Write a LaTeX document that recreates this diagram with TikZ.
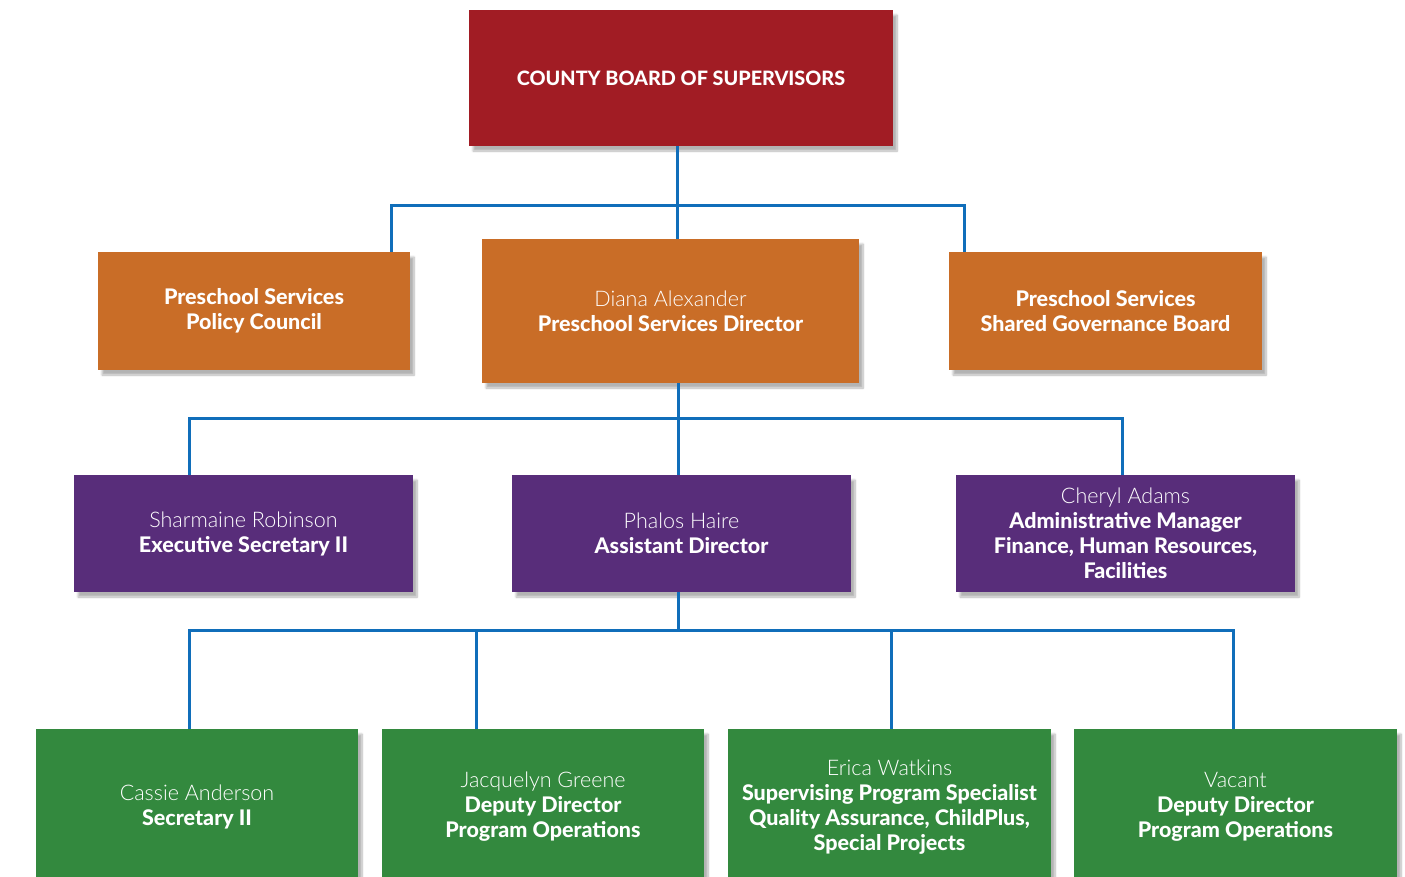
\documentclass[tikz,border=0pt]{standalone}
\usepackage{fontspec}
\setmainfont{Lato}[BoldFont={Lato Heavy}]
\newfontfamily\lightfont{Lato Light}
\usetikzlibrary{shadows.blur}

\definecolor{boardred}{RGB}{161,28,36}
\definecolor{mgmtorange}{RGB}{201,109,39}
\definecolor{staffpurple}{RGB}{88,45,122}
\definecolor{opsgreen}{RGB}{51,137,62}
\definecolor{linkblue}{RGB}{16,110,186}

\tikzset{
  orgbox/.style={rectangle, fill=#1, text=white, align=center,
    font=\fontsize{21.5}{25}\selectfont,
    blur shadow={shadow xshift=4pt, shadow yshift=-5pt, shadow blur steps=8, shadow opacity=30}},
  link/.style={draw=linkblue, line width=3pt}
}

\begin{document}
\begin{tikzpicture}[x=1pt, y=-1pt]
    \useasboundingbox (0,0) rectangle (1405,876);

    % Board
    \node[orgbox=boardred, minimum width=424pt, minimum height=136pt,
          font=\fontsize{19.8}{25}\selectfont] (board) at (681,78)
        {\textbf{COUNTY BOARD OF SUPERVISORS}};

    % Director and boards
    \node[orgbox=mgmtorange, minimum width=312pt, minimum height=118pt] (council) at (254,311)
        {\textbf{Preschool Services}\\\textbf{Policy Council}};
    \node[orgbox=mgmtorange, minimum width=377pt, minimum height=144pt] (director) at (670.5,311)
        {{\lightfont Diana Alexander}\\\textbf{Preschool Services Director}};
    \node[orgbox=mgmtorange, minimum width=313pt, minimum height=118pt] (governance) at (1105.5,311)
        {\textbf{Preschool Services}\\\textbf{Shared Governance Board}};

    % Staff
    \node[orgbox=staffpurple, minimum width=339pt, minimum height=117pt] (execsec) at (243.5,533.5)
        {{\lightfont Sharmaine Robinson}\\\textbf{Executive Secretary II}};
    \node[orgbox=staffpurple, minimum width=339pt, minimum height=117pt] (assistant) at (681.5,533.5)
        {{\lightfont Phalos Haire}\\\textbf{Assistant Director}};
    \node[orgbox=staffpurple, minimum width=339pt, minimum height=117pt] (adminmgr) at (1125.5,533.5)
        {{\lightfont Cheryl Adams}\\\textbf{Administrative Manager}\\\textbf{Finance, Human Resources,}\\\textbf{Facilities}};

    % Operations
    \node[orgbox=opsgreen, minimum width=322pt, minimum height=156pt] (secretary) at (197,807)
        {{\lightfont Cassie Anderson}\\\textbf{Secretary II}};
    \node[orgbox=opsgreen, minimum width=322pt, minimum height=156pt] (deputya) at (543,807)
        {{\lightfont Jacquelyn Greene}\\\textbf{Deputy Director}\\\textbf{Program Operations}};
    \node[orgbox=opsgreen, minimum width=323pt, minimum height=156pt] (specialist) at (889.5,807)
        {{\lightfont Erica Watkins}\\\textbf{Supervising Program Specialist}\\\textbf{Quality Assurance, ChildPlus,}\\\textbf{Special Projects}};
    \node[orgbox=opsgreen, minimum width=323pt, minimum height=156pt] (deputyb) at (1235.5,807)
        {{\lightfont Vacant}\\\textbf{Deputy Director}\\\textbf{Program Operations}};

    % Board -> level 1
    \coordinate (b1) at (677,205);
    \coordinate (b1l) at (391,205);
    \coordinate (b1r) at (964,205);
    \draw[link] (board.south -| b1) -- (b1) -- (b1 |- director.north);
    \draw[link] (b1l |- council.north) -- (b1l) -- (b1r) -- (b1r |- governance.north);

    % Director -> level 2
    \coordinate (b2) at (678,418);
    \coordinate (b2l) at (189,418);
    \coordinate (b2r) at (1122,418);
    \draw[link] (director.south -| b2) -- (b2) -- (b2 |- assistant.north);
    \draw[link] (b2l |- execsec.north) -- (b2l) -- (b2r) -- (b2r |- adminmgr.north);

    % Assistant -> level 3
    \coordinate (b3) at (678,630);
    \coordinate (b3a) at (189,630);
    \coordinate (b3b) at (476,630);
    \coordinate (b3c) at (891,630);
    \coordinate (b3d) at (1233,630);
    \draw[link] (assistant.south -| b3) -- (b3);
    \draw[link] (b3a |- secretary.north) -- (b3a) -- (b3d) -- (b3d |- deputyb.north);
    \draw[link] (b3b) -- (b3b |- deputya.north);
    \draw[link] (b3c) -- (b3c |- specialist.north);
\end{tikzpicture}
\end{document}
